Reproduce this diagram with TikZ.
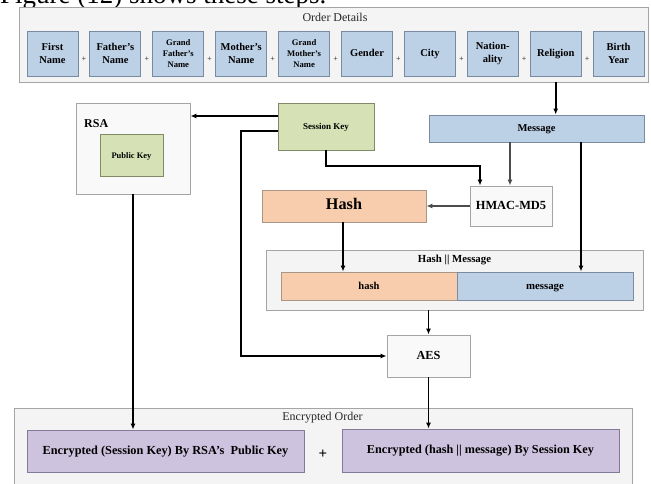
\documentclass[tikz,border=0pt]{standalone}
\usepackage{fontspec}
\setmainfont{Liberation Serif}
\usetikzlibrary{arrows.meta,calc}
\definecolor{blueF}{RGB}{188,208,230}
\definecolor{blueD}{RGB}{122,138,160}
\definecolor{orF}{RGB}{248,205,174}
\definecolor{orD}{RGB}{170,150,135}
\definecolor{grF}{RGB}{214,226,182}
\definecolor{grD}{RGB}{128,138,100}
\definecolor{puF}{RGB}{206,195,222}
\definecolor{puD}{RGB}{130,122,150}
\definecolor{ctF}{RGB}{244,244,244}
\definecolor{ctD}{RGB}{165,165,165}
\definecolor{whF}{RGB}{249,249,249}
\tikzset{
  basebox/.style={line width=0.9pt, inner sep=0pt, align=center, text=black},
  oneline/.style={text height=0.68em, text depth=0.02em},
  bluebox/.style={basebox, draw=blueD, fill=blueF},
  orbox/.style={basebox, draw=orD, fill=orF},
  grbox/.style={basebox, draw=grD, fill=grF},
  pubox/.style={basebox, draw=puD, fill=puF},
  ctbox/.style={basebox, draw=ctD, fill=ctF},
  whbox/.style={basebox, draw=ctD, fill=whF},
  toprow/.style={bluebox, minimum width=51pt, minimum height=45pt, font=\bfseries\fontsize{10.5}{12.5}\selectfont},
  toprowsm/.style={bluebox, minimum width=51pt, minimum height=45pt, font=\bfseries\fontsize{8.6}{11}\selectfont},
  plus/.style={inner sep=0pt, text=black!70, font=\bfseries\fontsize{8}{8}\selectfont},
  conn/.style={line width=1.6pt, black},
  arr/.style={conn, -{Latex[length=6pt,width=5pt]}},
  garr/.style={line width=1.6pt, black!70, -{Latex[length=6pt,width=5pt]}},
  ttl/.style={inner sep=0pt, text=black!85, font=\fontsize{12}{12}\selectfont},
}
\begin{document}
\begin{tikzpicture}[x=1pt,y=-1pt]
\useasboundingbox (0,0) rectangle (651,484);
\clip (0,0) rectangle (651,484);
\fill[white] (0,0) rectangle (651,484);
\node[anchor=base west, inner sep=0pt, font=\fontsize{27}{27}\selectfont] (fig) at (0,4) {Figure (12) shows these steps.};
% Order details
\node[ctbox, minimum width=629pt, minimum height=75pt] (od) at (333.5,44.5) {};
\node[ttl] (odt) at (335,17) {Order Details};
\node[toprow] (n1) at (52.5,53.5) {First\\Name};
\node[toprow] (n2) at (115.4,53.5) {Father's\\Name};
\node[toprowsm] (n3) at (178.3,53.5) {Grand\\Father's\\Name};
\node[toprow] (n4) at (241.2,53.5) {Mother's\\Name};
\node[toprowsm] (n5) at (304.1,53.5) {Grand\\Mother's\\Name};
\node[toprow, oneline] (n6) at (367,53.5) {Gender};
\node[toprow, oneline] (n7) at (429.9,53.5) {City};
\node[toprow] (n8) at (492.8,53.5) {Nation-\\ality};
\node[toprow, oneline] (n9) at (555.7,53.5) {Religion};
\node[toprow] (n10) at (618.6,53.5) {Birth\\Year};
\foreach \i/\j in {1/2,2/3,3/4,4/5,5/6,6/7,7/8,8/9,9/10}{
  \node[plus] (p\i) at ($(n\i.east)!0.5!(n\j.west)+(0,6)$) {+};
}
% RSA
\node[whbox, minimum width=114pt, minimum height=91pt] (rsa) at (133,148.5) {};
\node[anchor=west, inner sep=0pt, font=\bfseries\fontsize{12}{12}\selectfont] (rsat) at (84,124) {RSA};
\node[grbox, oneline, minimum width=63pt, minimum height=42pt, font=\bfseries\fontsize{8.5}{10}\selectfont] (pk) at (131.5,155) {Public Key};
% Session key
\node[grbox, oneline, minimum width=96pt, minimum height=47pt, font=\bfseries\fontsize{9}{10}\selectfont] (sk) at (326,126.5) {Session Key};
% Message
\node[bluebox, oneline, minimum width=215pt, minimum height=27pt, font=\bfseries\fontsize{10.5}{12}\selectfont] (msg) at (536.5,128.5) {Message};
% HMAC
\node[whbox, oneline, minimum width=82pt, minimum height=40pt, font=\bfseries\fontsize{12.4}{13}\selectfont] (hmac) at (511,206) {HMAC-MD5};
% Hash
\node[orbox, oneline, minimum width=164pt, minimum height=32pt, font=\bfseries\fontsize{16.2}{17}\selectfont] (hash) at (344,206) {Hash};
% Hash || Message
\node[ctbox, minimum width=377pt, minimum height=60pt] (hm) at (454.5,280) {};
\node[inner sep=0pt, oneline, font=\bfseries\fontsize{10.8}{11}\selectfont] (hmt) at (454.5,259.5) {Hash || Message};
\node[orbox, oneline, minimum width=176pt, minimum height=28pt, font=\bfseries\fontsize{10.5}{11}\selectfont] (hh) at (369,286) {hash};
\node[bluebox, oneline, minimum width=176pt, minimum height=28pt, font=\bfseries\fontsize{10.8}{11}\selectfont] (hmsg) at (545,286) {message};
% AES
\node[whbox, oneline, minimum width=83pt, minimum height=42pt, font=\bfseries\fontsize{12.3}{13}\selectfont] (aes) at (428.5,356) {AES};
% Encrypted order
\node[ctbox, minimum width=618pt, minimum height=76pt] (eo) at (323,446) {};
\node[ttl, oneline] (eot) at (322.5,417) {Encrypted Order};
\node[pubox, oneline, minimum width=277pt, minimum height=42pt, font=\bfseries\fontsize{12.3}{13}\selectfont] (e1) at (165.5,451) {Encrypted (Session Key) By RSA's\ \ Public Key};
\node[pubox, oneline, minimum width=277pt, minimum height=43pt, font=\bfseries\fontsize{12.2}{13}\selectfont] (e2) at (480.5,450.5) {Encrypted (hash || message) By Session Key};
\node[inner sep=0pt, font=\bfseries\fontsize{15}{15}\selectfont] (eplus) at (323,454) {+};
% connectors
\draw[arr] (od.south -| n9.south) -- (msg.north -| n9.south);
\draw[arr] (sk.west |- 0,116) -- (rsa.east |- 0,116);
\coordinate (c1) at (241,131);
\coordinate (c2) at (241,356);
\draw[arr] (sk.west |- c1) -- (c1) -- (c2) -- (aes.west);
\coordinate (c3) at (326,166);
\coordinate (c4) at (480,166);
\draw[arr] (sk.south) -- (c3) -- (c4) -- (hmac.north -| c4);
\draw[garr] (msg.south -| 510,0) -- (hmac.north -| 510,0);
\draw[garr] (hmac.west) -- (hash.east);
\draw[arr] (hash.south -| 343,0) -- (hh.north -| 343,0);
\draw[arr] (msg.south -| 581,0) -- (hmsg.north -| 581,0);
\draw[arr] (hm.south -| aes.north) -- (aes.north);
\draw[arr] (aes.south) -- (e2.north -| aes.south);
\draw[arr] (rsa.south) -- (e1.north -| rsa.south);
\end{tikzpicture}
\end{document}
